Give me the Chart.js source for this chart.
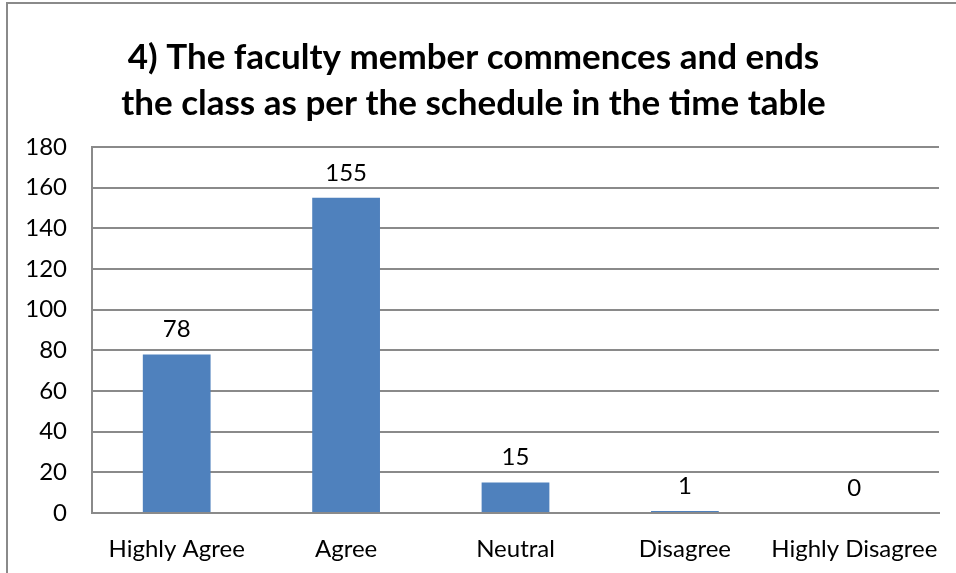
<!DOCTYPE html>
<html lang="en">
<head>
  <meta charset="UTF-8">
  <title>Faculty schedule survey</title>
  <script src="https://cdn.jsdelivr.net/npm/chart.js"></script>
  <style>
    body {
      margin: 0;
      background: #fff;
      overflow: hidden;
    }
    #frame {
      position: absolute;
      left: 6px;
      top: 2px;
      width: 1000px;
      height: 700px;
      border-left: 2px solid #8a8a8a;
      border-top: 2px solid #8a8a8a;
    }
    #wrap {
      position: absolute;
      left: 0;
      top: 0;
      width: 956px;
      height: 573px;
    }
  </style>
</head>
<body>
  <div id="frame"></div>
  <div id="wrap"><canvas id="surveyChart" width="956" height="573"></canvas></div>

  <script>
    const titleLines = ['4) The faculty member commences and ends', 'the class as per the schedule in the time table'];
    const categories = ['Highly Agree', 'Agree', 'Neutral', 'Disagree', 'Highly Disagree'];
    const responses = [78, 155, 15, 1, 0];

    const fontFamily = 'Lato, "Open Sans", sans-serif';

    // write the count above each bar
    const valueLabels = {
      id: 'valueLabels',
      afterDatasetsDraw(chart) {
        const ctx = chart.ctx;
        const meta = chart.getDatasetMeta(0);
        ctx.save();
        ctx.font = '24px ' + fontFamily;
        ctx.fillStyle = '#000';
        ctx.textAlign = 'center';
        ctx.textBaseline = 'alphabetic';
        meta.data.forEach((bar, i) => {
          ctx.fillText(String(responses[i]), bar.x, bar.y - 17);
        });
        ctx.restore();
      }
    };

    const ctx = document.getElementById('surveyChart').getContext('2d');
    new Chart(ctx, {
      type: 'bar',
      data: {
        labels: categories,
        datasets: [{
          data: responses,
          backgroundColor: '#4F81BD',
          barPercentage: 0.4,
          categoryPercentage: 1.0
        }]
      },
      options: {
        responsive: false,
        animation: false,
        layout: { padding: { left: 8, right: 17, top: 0, bottom: 0 } },
        plugins: {
          legend: { display: false },
          tooltip: { enabled: false },
          title: {
            display: true,
            text: titleLines,
            color: '#000',
            font: { family: fontFamily, size: 35, weight: 'bold', lineHeight: 1.314 },
            padding: { top: 35, bottom: 20 }
          }
        },
        scales: {
          x: {
            grid: { display: false },
            border: { color: '#8a8a8a', width: 2 },
            ticks: { color: '#000', font: { family: fontFamily, size: 24 }, padding: 14, maxRotation: 0, autoSkip: false },
            afterFit(scale) { scale.height = 60; }
          },
          y: {
            min: 0,
            max: 180,
            ticks: { stepSize: 20, color: '#000', font: { family: fontFamily, size: 24 }, padding: 25 },
            grid: { color: '#8a8a8a', lineWidth: 2, drawTicks: false },
            border: { color: '#8a8a8a', width: 2 },
            afterFit(scale) { scale.width = 84; }
          }
        }
      },
      plugins: [valueLabels]
    });
  </script>
</body>
</html>
